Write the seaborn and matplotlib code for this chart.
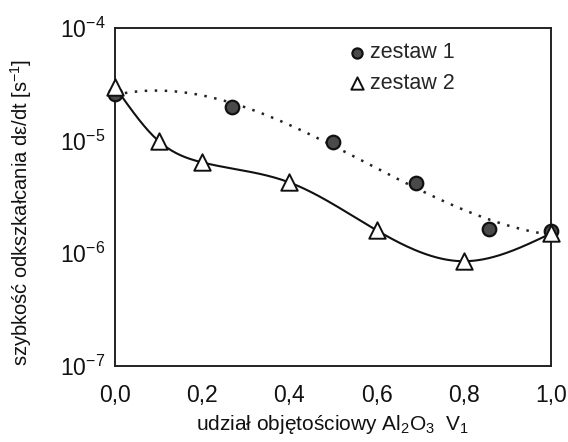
import numpy as np
import pandas as pd
import matplotlib
matplotlib.use("Agg")
import matplotlib.pyplot as plt
import seaborn as sns
from matplotlib.ticker import FixedLocator, FixedFormatter, NullLocator

# ---- data ----
x_set1 = [0.0, 0.268, 0.50, 0.69, 0.858, 1.0]
y_set1 = [2.6e-5, 1.97e-5, 9.7e-6, 4.2e-6, 1.65e-6, 1.58e-6]

x_set2 = [0.0, 0.1, 0.2, 0.4, 0.6, 0.8, 1.0]
y_set2 = [3.0e-5, 9.9e-6, 6.4e-6, 4.25e-6, 1.6e-6, 8.5e-7, 1.5e-6]

series_names = ["zestaw 1", "zestaw 2"]
x_ticks = [0.0, 0.2, 0.4, 0.6, 0.8, 1.0]
x_ticklabels = ["0,0", "0,2", "0,4", "0,6", "0,8", "1,0"]
y_ticks = [1e-7, 1e-6, 1e-5, 1e-4]
y_ticklabels = ["10$^{-7}$", "10$^{-6}$", "10$^{-5}$", "10$^{-4}$"]
x_label = "udział objętościowy Al$_2$O$_3$  V$_1$"
y_label = "szybkość odkszkałcania d$\\varepsilon$/dt [s$^{-1}$]"

sns.set_theme(style="white")
plt.rcParams["font.family"] = ["Liberation Sans", "DejaVu Sans"]
plt.rcParams["mathtext.fontset"] = "custom"
plt.rcParams["mathtext.rm"] = "Liberation Sans"
plt.rcParams["mathtext.it"] = "Liberation Sans:italic"
plt.rcParams["mathtext.default"] = "regular"

fig = plt.figure(figsize=(5.68, 4.42), dpi=100)
ax = fig.add_axes([0.2025, 0.172, 0.7675, 0.765])

df1 = pd.DataFrame({"x": x_set1, "y": y_set1, "seria": series_names[0]})
df2 = pd.DataFrame({"x": x_set2, "y": y_set2, "seria": series_names[1]})


def natural_spline(xs, ys, n=300):
    """Natural cubic spline through the points, in log10 space."""
    x = np.asarray(xs, float)
    y = np.log10(np.asarray(ys, float))
    k = len(x)
    h = np.diff(x)
    A = np.zeros((k, k))
    b = np.zeros(k)
    A[0, 0] = A[-1, -1] = 1.0
    for i in range(1, k - 1):
        A[i, i - 1] = h[i - 1]
        A[i, i] = 2 * (h[i - 1] + h[i])
        A[i, i + 1] = h[i]
        b[i] = 6 * ((y[i + 1] - y[i]) / h[i] - (y[i] - y[i - 1]) / h[i - 1])
    M = np.linalg.solve(A, b)
    xx = np.linspace(x[0], x[-1], n)
    j = np.clip(np.searchsorted(x, xx) - 1, 0, k - 2)
    t0 = x[j + 1] - xx
    t1 = xx - x[j]
    hj = h[j]
    yy = (M[j] * t0 ** 3 + M[j + 1] * t1 ** 3) / (6 * hj) \
        + (y[j] / hj - M[j] * hj / 6) * t0 + (y[j + 1] / hj - M[j + 1] * hj / 6) * t1
    return xx, 10 ** yy


def poly_curve(xs, ys, deg, n=300):
    c = np.polyfit(xs, np.log10(ys), deg)
    xx = np.linspace(min(xs), max(xs), n)
    return xx, 10 ** np.polyval(c, xx)


xx1, yy1 = poly_curve(x_set1, y_set1, 3)
xx2, yy2 = natural_spline(x_set2, y_set2)
sns.lineplot(x=xx1, y=yy1, ax=ax, color="#222222", lw=1.8, linestyle=(0, (1, 3)))
sns.lineplot(x=xx2, y=yy2, ax=ax, color="#111111", lw=1.5)

sns.scatterplot(data=df1, x="x", y="y", ax=ax, marker="o", s=95,
                color="#4a4a4a", edgecolor="#111111", linewidth=1.6,
                label=series_names[0], zorder=5, clip_on=False)
sns.scatterplot(data=df2, x="x", y="y", ax=ax, marker="^", s=140,
                facecolor="white", edgecolor="#111111", linewidth=1.4,
                label=series_names[1], zorder=6, clip_on=False)

ax.set_yscale("log")
ax.set_xlim(0, 1.0)
ax.set_ylim(1e-7, 1e-4)
ax.xaxis.set_major_locator(FixedLocator(x_ticks))
ax.xaxis.set_major_formatter(FixedFormatter(x_ticklabels))
ax.yaxis.set_major_locator(FixedLocator(y_ticks))
ax.yaxis.set_major_formatter(FixedFormatter(y_ticklabels))
ax.yaxis.set_minor_locator(NullLocator())
ax.tick_params(axis="both", which="major", direction="in", length=5, width=1,
               color="#222222", labelsize=16.5, labelcolor="#111111")
ax.tick_params(axis="x", pad=13)
ax.tick_params(axis="y", pad=7)
for sp in ax.spines.values():
    sp.set_color("#222222")
    sp.set_linewidth(1.4)

ax.set_xlabel(x_label, fontsize=15, color="#111111", labelpad=4)
ax.set_ylabel(y_label, fontsize=14.5, color="#111111")
ax.yaxis.set_label_coords(-0.185, 0.455)

leg = ax.legend(loc="upper left", bbox_to_anchor=(0.5, 0.995), frameon=False,
                fontsize=15.5, handlelength=1.0, handletextpad=0.1,
                labelspacing=0.45, borderaxespad=0.2, markerscale=0.75)

fig.savefig("out.png", dpi=100)
